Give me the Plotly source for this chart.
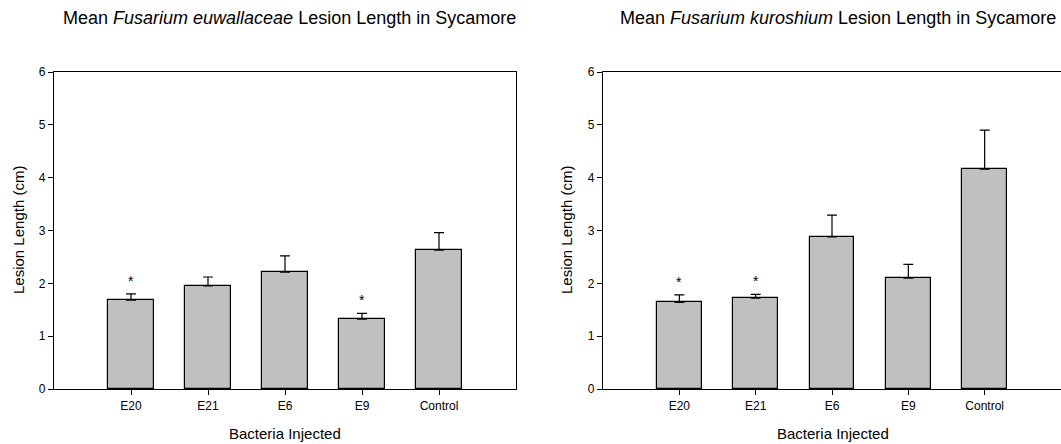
import plotly.graph_objects as go

categories = ["E20", "E21", "E6", "E9", "Control"]

# Fusarium euwallaceae
fe_mean = [1.68, 1.95, 2.21, 1.32, 2.63]
fe_sem = [0.12, 0.17, 0.31, 0.11, 0.33]
fe_sig = ["*", "", "", "*", ""]

# Fusarium kuroshium
fk_mean = [1.64, 1.72, 2.88, 2.10, 4.16]
fk_sem = [0.14, 0.07, 0.41, 0.26, 0.74]
fk_sig = ["*", "*", "", "", ""]

y_ticks = [0, 1, 2, 3, 4, 5, 6]

FONT = "Liberation Sans, Arial, sans-serif"
W, H = 1061, 444
fig = go.Figure()
annotations = []

for i, (mean, sem, sig) in enumerate([(fe_mean, fe_sem, fe_sig), (fk_mean, fk_sem, fk_sig)]):
    xa = "x" if i == 0 else "x2"
    ya = "y" if i == 0 else "y2"
    fig.add_trace(go.Bar(
        x=categories, y=mean, xaxis=xa, yaxis=ya, width=0.585,
        marker=dict(color="#c0c0c0", line=dict(color="#000000", width=1.2)),
        error_y=dict(type="data", symmetric=False, array=sem, arrayminus=[0] * len(sem),
                     color="#000000", thickness=1.2, width=5),
        showlegend=False, hoverinfo="skip",
    ))
    for c, m, s, g in zip(categories, mean, sem, sig):
        if g:
            annotations.append(dict(text=g, x=c, y=m + s, xref=xa, yref=ya, xanchor="center",
                                    yanchor="bottom", yshift=3, showarrow=False,
                                    font=dict(family=FONT, size=14, color="#000000")))

axis_common = dict(showgrid=False, zeroline=False, showline=True, linecolor="#000000", linewidth=1.2,
                   ticks="outside", ticklen=5, tickcolor="#000000", tickwidth=1, automargin=False,
                   tickfont=dict(family=FONT, size=12, color="#000000"))


def ann(text, x, y, angle=0, size=15):
    return dict(text=text, x=x / W, y=1 - y / H, xref="paper", yref="paper", xanchor="center",
                yanchor="middle", textangle=angle, showarrow=False,
                font=dict(family=FONT, size=size, color="#000000"))


annotations += [
    ann("Mean <i>Fusarium euwallaceae</i> Lesion Length in Sycamore", 289, 18, size=18),
    ann("Mean <i>Fusarium kuroshium</i> Lesion Length in Sycamore", 838, 18, size=18),
    ann("Bacteria Injected", 285, 433),
    ann("Bacteria Injected", 833, 433),
    ann("Lesion Length (cm)", 18, 230, -90),
    ann("Lesion Length (cm)", 566, 230, -90),
]

fig.update_layout(
    width=W, height=H,
    margin=dict(l=0, r=0, t=0, b=0, pad=0, autoexpand=False),
    paper_bgcolor="white", plot_bgcolor="white",
    bargap=0,
    xaxis=dict(domain=[54 / W, 516 / W], range=[-1, 5], anchor="y", mirror=True, **axis_common),
    yaxis=dict(domain=[55 / H, 372 / H], range=[0, 6], tickvals=y_ticks, anchor="x", mirror=True, **axis_common),
    xaxis2=dict(domain=[603 / W, 1.0], range=[-1, 5], anchor="y2", mirror=True, **axis_common),
    yaxis2=dict(domain=[55 / H, 372 / H], range=[0, 6], tickvals=y_ticks, anchor="x2", mirror=False, **axis_common),
    annotations=annotations,
)

fig.write_html("out.html")
